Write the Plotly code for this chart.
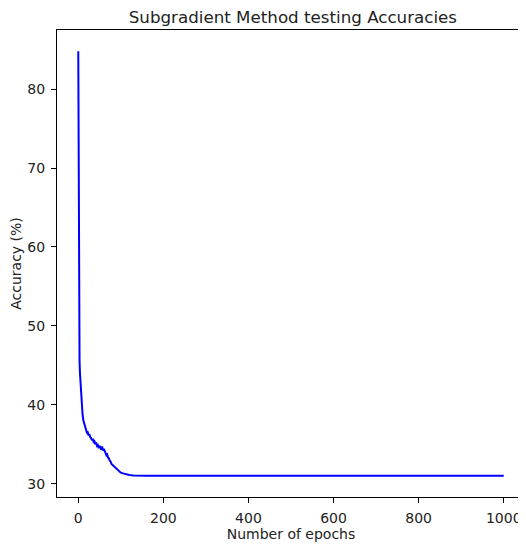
import plotly.graph_objects as go

# accuracy (%) per epoch
epochs = [0, 1, 2, 3, 4, 5, 6, 8, 10, 12, 14, 16, 18, 20, 22, 24, 26, 28, 30,
          32, 34, 36, 38, 40, 42, 44, 46, 48, 50, 52, 54, 56, 58, 60, 62, 64,
          66, 68, 70, 72, 74, 76, 78, 80, 84, 88, 92, 96, 100, 105, 110, 115,
          120, 130, 140, 150, 160, 180, 200, 250, 300, 400, 500, 600, 700,
          800, 900, 1000]
accuracy = [84.8, 53.5, 48.0, 45.5, 44.0, 43.0, 41.5, 40.0, 38.8, 38.0, 37.5,
            37.1, 36.9, 36.5, 36.6, 36.1, 36.3, 35.9, 35.8, 35.5, 35.7, 35.3,
            35.4, 35.0, 35.2, 34.8, 34.9, 34.5, 34.8, 34.6, 34.3, 34.7, 34.2,
            34.4, 34.0, 33.9, 33.6, 33.7, 33.3, 33.2, 32.9, 32.8, 32.5, 32.4,
            32.1, 31.9, 31.7, 31.5, 31.4, 31.3, 31.2, 31.15, 31.1, 31.05,
            31.02, 31.0, 31.0, 31.0, 31.0, 31.0, 31.0, 31.0, 31.0, 31.0, 31.0,
            31.0, 31.0, 31.0]

fig = go.Figure(go.Scatter(x=epochs, y=accuracy, mode="lines",
                           line=dict(color="#0000ff", width=2)))

axis_style = dict(showline=True, linecolor="black", linewidth=1, mirror=True,
                  ticks="outside", ticklen=5, tickcolor="black", showgrid=False,
                  zeroline=False, automargin=False, ticklabelstandoff=3,
                  tickfont=dict(size=14, color="#222"))

# page body has an 8px margin, so the figure is 8px smaller than the window
fig.update_layout(
    width=518, height=540,
    margin=dict(l=49, r=1, t=22, b=51, pad=0),
    paper_bgcolor="white", plot_bgcolor="white",
    font=dict(family="DejaVu Sans", color="#222"),
    showlegend=False,
    title=dict(text="Subgradient Method testing Accuracies", x=0.55,
               xanchor="center", y=0.984, yanchor="middle", font=dict(size=16.7)),
)
fig.update_xaxes(range=[-50, 1050], tickvals=[0, 200, 400, 600, 800, 1000],
                 title=dict(text="Number of epochs", font=dict(size=14), standoff=2),
                 **axis_style)
fig.update_yaxes(range=[28.31, 87.49], tickvals=[30, 40, 50, 60, 70, 80],
                 title=dict(text="Accuracy (%)", font=dict(size=14), standoff=2),
                 **axis_style)

fig.write_html("out.html")
